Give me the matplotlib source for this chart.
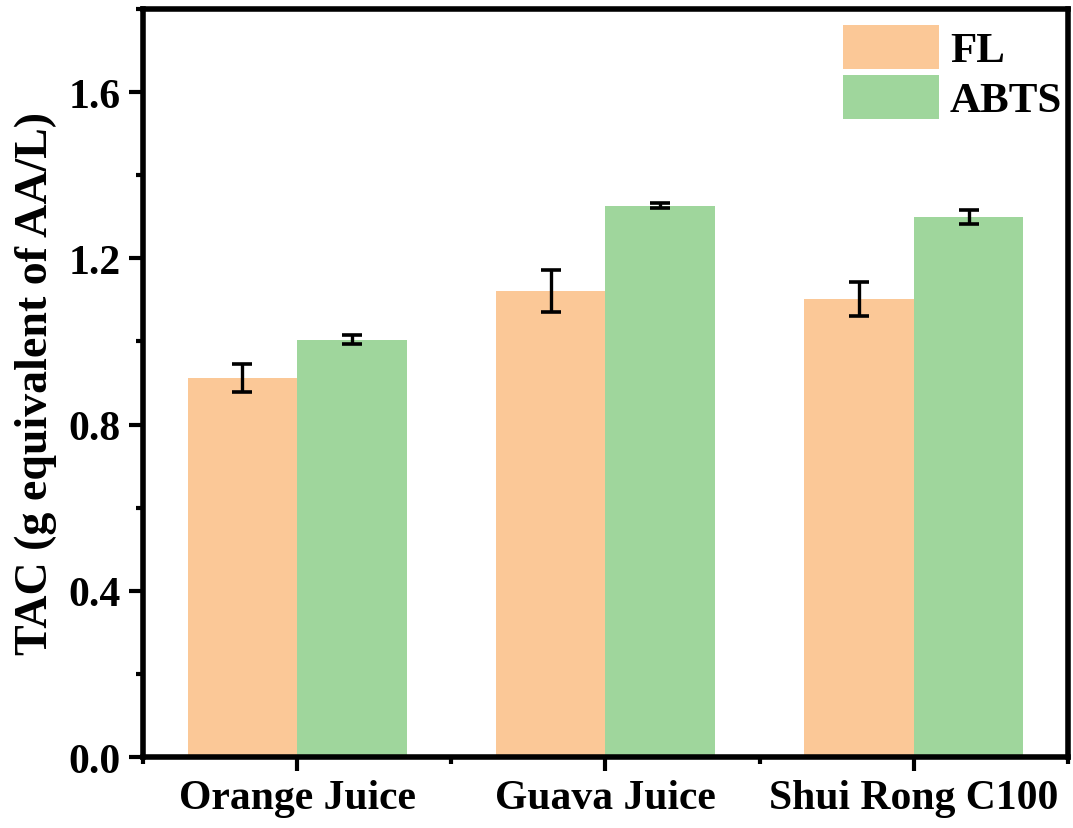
import numpy as np
import matplotlib
matplotlib.use("Agg")
import matplotlib.pyplot as plt
from matplotlib.ticker import MultipleLocator, FixedLocator

plt.rcParams['font.family'] = ['Liberation Serif', 'DejaVu Serif']
plt.rcParams['font.weight'] = 'bold'

categories = ["Orange Juice", "Guava Juice", "Shui Rong C100"]
fl_values = [0.912, 1.121, 1.102]
fl_errors = [0.034, 0.051, 0.040]
abts_values = [1.004, 1.327, 1.300]
abts_errors = [0.011, 0.005, 0.017]
yticks = [0.0, 0.4, 0.8, 1.2, 1.6]

fl_color = "#FBC897"
abts_color = "#9FD69C"

fig = plt.figure(figsize=(10.73, 8.29), dpi=100)
ax = fig.add_axes([0.1333, 0.0856, 0.8620, 0.9024])

x = np.arange(len(categories))
width = 0.355
err_kw = dict(ecolor="black", elinewidth=2.4, capsize=7, capthick=2.6)
ax.bar(x - width / 2, fl_values, width, yerr=fl_errors, color=fl_color,
       label="FL", error_kw=err_kw)
ax.bar(x + width / 2, abts_values, width, yerr=abts_errors, color=abts_color,
       label="ABTS", error_kw=err_kw)

ax.set_xlim(-0.5, 2.5)
ax.set_ylim(0, 1.8)
ax.set_xticks(x)
ax.set_xticklabels(categories, fontsize=30, fontweight="bold")
ax.xaxis.set_minor_locator(FixedLocator([-0.5, 0.5, 1.5, 2.5]))
ax.set_yticks(yticks)
ax.set_yticklabels([f"{v:.1f}" for v in yticks], fontsize=30, fontweight="bold")
ax.yaxis.set_minor_locator(MultipleLocator(0.2))

for side in ax.spines.values():
    side.set_linewidth(4)
ax.tick_params(axis="both", which="major", direction="out", length=10, width=3,
               pad=6, top=False, right=False)
ax.tick_params(axis="both", which="minor", direction="out", length=5, width=3,
               top=False, right=False)

ax.set_ylabel("TAC (g equivalent of AA/L)", fontsize=33, fontweight="bold",
              labelpad=8)

leg = ax.legend(loc="upper right", bbox_to_anchor=(1.008, 0.996),
                frameon=False, fontsize=31,
                handlelength=2.23, handleheight=1.2, handletextpad=0.25,
                labelspacing=0.1, borderaxespad=0.0, borderpad=0.3)
for t in leg.get_texts():
    t.set_fontweight("bold")

fig.savefig("out.png", dpi=100)
